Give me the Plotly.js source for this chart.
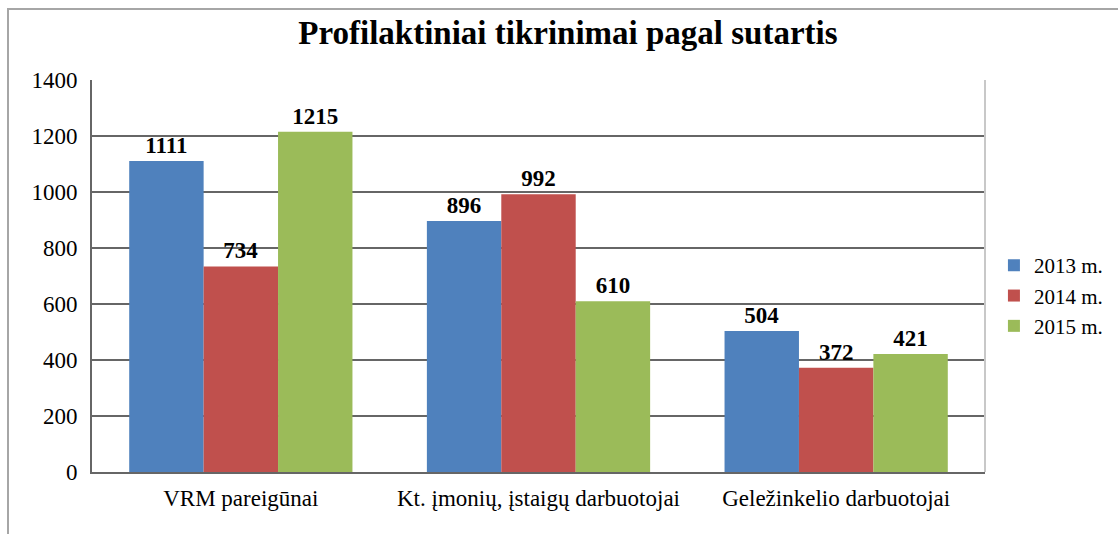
<!DOCTYPE html>
<html>
<head>
<meta charset="utf-8">
<script src="https://cdn.plot.ly/plotly-3.0.1.min.js"></script>
<style>
  html, body { margin: 0; padding: 0; background: #fff; }
  #wrap { position: relative; width: 1118px; height: 534px; }
  #chart { position: absolute; left: 0; top: 0; width: 1118px; height: 534px; }
  #frame { position: absolute; left: 7px; top: 8px; width: 1111px; height: 526px;
           border-left: 2px solid #a6a6a6; border-top: 2px solid #a6a6a6; pointer-events: none; }
</style>
</head>
<body>
<div id="wrap">
  <div id="chart"></div>
  <div id="frame"></div>
</div>
<script>
const categories = ["VRM pareigūnai", "Kt. įmonių, įstaigų darbuotojai", "Geležinkelio darbuotojai"];
const seriesNames = ["2013 m.", "2014 m.", "2015 m."];
const values2013 = [1111, 896, 504];
const values2014 = [734, 992, 372];
const values2015 = [1215, 610, 421];
const colors = ["#4F81BD", "#C0504D", "#9BBB59"];

const serif = "Liberation Serif";
const allValues = [values2013, values2014, values2015];

const traces = allValues.map((vals, i) => ({
  type: "bar",
  name: seriesNames[i],
  x: categories,
  y: vals,
  marker: { color: colors[i], line: { width: 0 } },
  text: vals.map(String),
  textposition: "outside",
  cliponaxis: false,
  textfont: { family: serif, size: 23, color: "#000", weight: "bold" },
  hoverinfo: "x+y+name"
}));

const layout = {
  width: 1118,
  height: 534,
  font: { family: serif },
  paper_bgcolor: "rgba(0,0,0,0)",
  plot_bgcolor: "#fff",
  margin: { l: 92, r: 133, t: 80, b: 62, autoexpand: false },
  title: {
    text: "<b>Profilaktiniai tikrinimai pagal sutartis</b>",
    font: { family: serif, size: 33, color: "#000" },
    x: 0.508, xanchor: "center", xref: "container",
    y: 0.94, yanchor: "middle"
  },
  barmode: "group",
  bargap: 0.25,
  bargroupgap: 0,
  xaxis: {
    type: "category",
    showline: true, linecolor: "#666", linewidth: 2,
    ticks: "", showgrid: false,
    tickfont: { family: serif, size: 23, color: "#000" },
    ticklabelstandoff: 4,
    automargin: false
  },
  yaxis: {
    range: [0, 1400], dtick: 200, tick0: 0,
    showline: true, linecolor: "#666", linewidth: 2,
    showgrid: true, gridcolor: "#666", gridwidth: 2,
    zeroline: false,
    ticks: "", ticklen: 0,
    ticklabelstandoff: 8,
    tickfont: { family: serif, size: 23, color: "#000" },
    automargin: false
  },
  shapes: [
    { type: "line", xref: "paper", yref: "paper", x0: 1, x1: 1, y0: 0, y1: 1,
      line: { color: "#c8c8c8", width: 2 } }
  ],
  legend: {
    x: 1.010, xanchor: "left", y: 0.45, yanchor: "middle",
    font: { family: serif, size: 21, color: "#000" },
    itemwidth: 30,
    tracegroupgap: 0,
    bgcolor: "rgba(0,0,0,0)"
  },
  showlegend: true
};

Plotly.newPlot("chart", traces, layout, { displayModeBar: false, staticPlot: true });
</script>
</body>
</html>
